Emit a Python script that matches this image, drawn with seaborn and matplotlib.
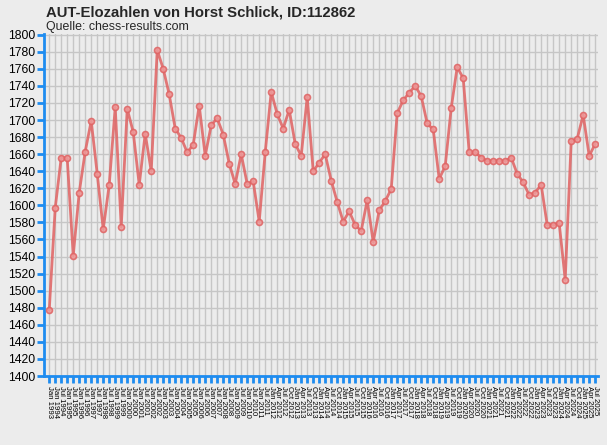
#!/usr/bin/env python3
# coding: utf-8

import pandas as pd
import seaborn as sns
import matplotlib.pyplot as plt

# ------------------------------------------------
# Data
# ------------------------------------------------
elo = [1477, 1597, 1656, 1655, 1541, 1615, 1663, 1699, 1637, 1572,
       1624, 1715, 1575, 1713, 1686, 1624, 1684, 1640, 1782, 1760,
       1730, 1690, 1679, 1662, 1671, 1717, 1658, 1694, 1702, 1683,
       1649, 1625, 1660, 1625, 1628, 1581, 1662, 1733, 1707, 1690,
       1712, 1672, 1658, 1727, 1640, 1650, 1660, 1629, 1604, 1581,
       1593, 1577, 1570, 1606, 1557, 1594, 1605, 1619, 1708, 1723,
       1732, 1740, 1728, 1696, 1689, 1631, 1646, 1714, 1762, 1749,
       1662, 1662, 1656, 1652, 1652, 1652, 1652, 1656, 1637, 1627,
       1612, 1615, 1624, 1577, 1577, 1579, 1513, 1675, 1678, 1706,
       1658, 1672]

# rating list dates: half-yearly until 2011, quarterly afterwards
half_years = ["Jan 1993"] + [m + " " + str(y) for y in range(1994, 2012)
                             for m in ("Jan", "Jul")]
quarters = [m + " " + str(y) for y in range(2012, 2026)
            for m in ("Jan", "Apr", "Jul", "Oct")][:55]
dates = half_years + quarters

title = "AUT-Elozahlen von Horst Schlick, ID:112862"
subtitle = "Quelle: chess-results.com"

# ------------------------------------------------
# Plot
# ------------------------------------------------
bg = "#ECECEC"
blue = "#1E8CF0"
red = "#E06262"

sns.set_theme(style="white")
plt.rcParams['font.family'] = ['Liberation Sans', 'DejaVu Sans']

data = pd.DataFrame({"pos": range(len(elo)), "elo": elo, "date": dates})

fig = plt.figure(figsize=(6.07, 4.45), dpi=100, facecolor=bg)
ax = fig.add_axes([0.0717, 0.155, 0.9133, 0.769])
ax.set_facecolor(bg)

sns.lineplot(x="pos", y="elo", data=data, ax=ax, color=red, linewidth=2,
             alpha=0.85, marker="o", markersize=4.3, markerfacecolor="#EE9A9A",
             markeredgecolor=red, markeredgewidth=1.2, zorder=3)

ax.set_xlim(-0.95, len(elo) - 0.55)
ax.set_ylim(1400, 1801)
ax.set_yticks(range(1400, 1801, 20))
ax.set_xticks(data["pos"])
ax.set_xticklabels(dates, rotation=-90, fontsize=5.6, ha="center", va="top")
ax.tick_params(axis="y", labelsize=8.8, colors=blue, labelcolor="black",
               length=5, width=2, direction="out", left=True, pad=1)
ax.tick_params(axis="x", colors=blue, labelcolor="black",
               length=5, width=2, direction="out", bottom=True, pad=2)

ax.grid(True, color="#C6C6C6", linewidth=1)
ax.set_axisbelow(True)
for s in ["top", "right"]:
    ax.spines[s].set_visible(False)
for s in ["left", "bottom"]:
    ax.spines[s].set_color(blue)
    ax.spines[s].set_linewidth(2)
ax.set_xlabel("")
ax.set_ylabel("")

fig.text(0.076, 0.962, title, fontsize=10.7, fontweight="bold", va="baseline")
fig.text(0.076, 0.933, subtitle, fontsize=8.9, va="baseline")

plt.savefig("out.png", dpi=100, facecolor=bg)
